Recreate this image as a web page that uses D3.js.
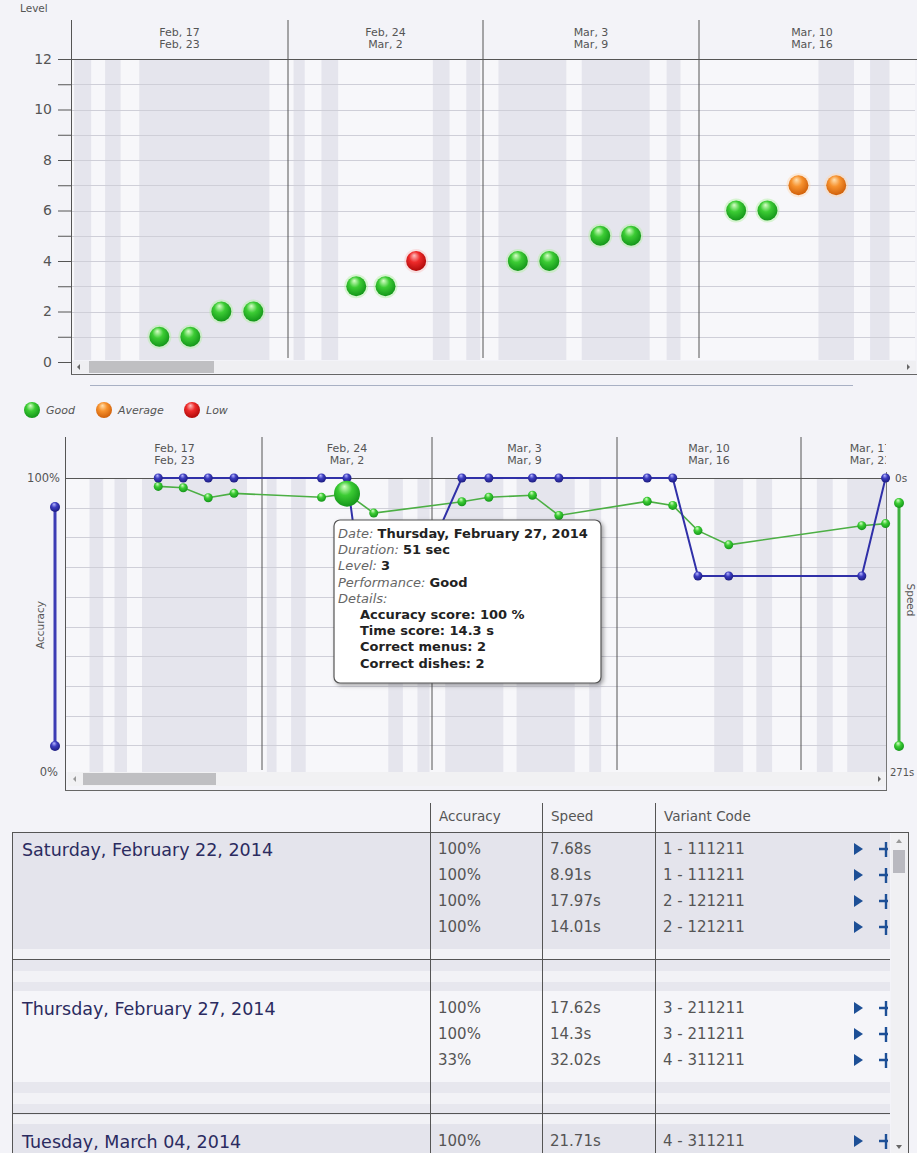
<!DOCTYPE html>
<html>
<head>
<meta charset="utf-8">
<script src="https://cdn.jsdelivr.net/npm/d3@7"></script>
<style>
  body { margin: 0; background: #f3f3f8; font-family: "DejaVu Sans", Verdana, sans-serif; }
  svg { display: block; }
</style>
</head>
<body>
<div id="chart"></div>
<script>
// ---- data ----
var weekStart = ["Feb, 17", "Feb, 24", "Mar, 3", "Mar, 10", "Mar, 17"];
var weekEnd   = ["Feb, 23", "Mar, 2", "Mar, 9", "Mar, 16", "Mar, 23"];
// session position, in days after Monday Feb 17 2014
var sessionDay = [2.85, 3.85, 4.85, 5.88, 9.45, 10.5, 11.6, 15.13, 16.15, 17.8, 18.8, 22.15, 23.12, 24.08, 25.25, 30.3, 31.2];
var level = [1, 1, 2, 2, 3, 3, 4, 4, 4, 5, 5, 6, 6, 7, 7];
var perf = ["Good", "Good", "Good", "Good", "Good", "Good", "Low", "Good", "Good", "Good", "Good", "Good", "Good", "Average", "Average"];
var accuracy = [100, 100, 100, 100, 100, 100, 33, 100, 100, 100, 100, 100, 100, 67, 67, 67, 100];
var speed = [7.68, 8.91, 17.97, 14.01, 17.62, 14.3, 32.02, 21.71, 17.6, 15.7, 34.2, 21.3, 25, 48, 61, 43.5, 41.6];
var shaded = [[0.1, 0.65], [1.1, 1.6], [2.2, 6.4], [7.2, 7.6], [8.2, 8.8], [12.2, 12.8], [13.4, 13.9],
              [14.5, 16.7], [17.2, 19.4], [19.95, 20.4], [24.7, 25.8], [26.3, 26.9], [28.6, 29.2], [29.75, 31.3]];
var legendNames = ["Good", "Average", "Low"];
var tableHeads = ["Accuracy", "Speed", "Variant Code"];
var tableDays = ["Saturday, February 22, 2014", "Thursday, February 27, 2014", "Tuesday, March 04, 2014"];
var tableAcc = [["100%", "100%", "100%", "100%"], ["100%", "100%", "33%"], ["100%"]];
var tableSpeed = [["7.68s", "8.91s", "17.97s", "14.01s"], ["17.62s", "14.3s", "32.02s"], ["21.71s"]];
var tableCode = [["1 - 111211", "1 - 111211", "2 - 121211", "2 - 121211"], ["3 - 211211", "3 - 211211", "4 - 311211"], ["4 - 311211"]];
var hover = 5;
var hoverDate = "Thursday, February 27, 2014", hoverDuration = "51 sec", hoverMenus = 2, hoverDishes = 2;

var perfColor = {Good: "green", Average: "orange", Low: "red"};

var svg = d3.select('#chart').append('svg')
  .attr('width', 917)
  .attr('height', 1153);

var defs = svg.append('defs');

function ball(id, light, mid, dark) {
  var g = defs.append('radialGradient').attr('id', id)
    .attr('cx', '45%').attr('cy', '40%').attr('r', '60%').attr('fx', '40%').attr('fy', '22%');
  g.append('stop').attr('offset', '0%').attr('stop-color', light);
  g.append('stop').attr('offset', '45%').attr('stop-color', mid);
  g.append('stop').attr('offset', '100%').attr('stop-color', dark);
}
ball('green', '#d8ffc8', '#3ccc34', '#14961a');
ball('orange', '#ffe0b0', '#f7922e', '#d0600a');
ball('red', '#ffc0c0', '#ee2a2a', '#b00a0a');
ball('blue', '#b8b8ff', '#3c3cc0', '#1c1c80');

var shadow = defs.append('filter').attr('id', 'shadow').attr('x', '-10%').attr('y', '-10%').attr('width', '130%').attr('height', '130%');
shadow.append('feDropShadow').attr('dx', 2).attr('dy', 2).attr('stdDeviation', 2).attr('flood-opacity', 0.35);

// =================== level chart ===================
var x1 = d3.scaleLinear().domain([0, 7, 14, 21, 28]).range([71, 288, 483, 699, 925]);
var y1 = d3.scaleLinear().domain([0, 12]).range([362, 59]);
var left1 = 71, right1 = 915;

defs.append('clipPath').attr('id', 'clip1').append('rect')
  .attr('x', left1).attr('y', 20).attr('width', right1 - left1).attr('height', 340);

var topG = svg.append('g');

topG.append('text').attr('x', 20).attr('y', 12).attr('font-size', 10.5).attr('fill', '#555').text('Level');

var plot1 = topG.append('g').attr('clip-path', 'url(#clip1)');
plot1.append('rect').attr('x', left1).attr('y', 59).attr('width', right1 - left1).attr('height', 301).attr('fill', '#f7f7fa');
plot1.selectAll('rect.band').data(shaded).enter().append('rect')
  .attr('class', 'band')
  .attr('x', function(d) { return x1(d[0]); })
  .attr('width', function(d) { return x1(d[1]) - x1(d[0]); })
  .attr('y', 59).attr('height', 301)
  .attr('fill', '#e5e5ed');

plot1.selectAll('line.grid').data(d3.range(0, 12)).enter().append('line')
  .attr('class', 'grid')
  .attr('x1', left1).attr('x2', right1)
  .attr('y1', function(d) { return Math.round(y1(d)) + 0.5; })
  .attr('y2', function(d) { return Math.round(y1(d)) + 0.5; })
  .attr('stroke', '#cfcfd8');

plot1.selectAll('line.week').data([7, 14, 21]).enter().append('line')
  .attr('class', 'week')
  .attr('x1', function(d) { return x1(d); }).attr('x2', function(d) { return x1(d); })
  .attr('y1', 20).attr('y2', 358)
  .attr('stroke', '#555');

// week labels centred on the visible part of each week
function weekLabels(g, x, nWeeks, lo, hi, y0) {
  var lab = g.selectAll('g.wl').data(d3.range(0, nWeeks)).enter().append('g').attr('class', 'wl')
    .attr('transform', function(i) {
      var a = Math.max(x(i * 7), lo), b = Math.min(x(i * 7 + 7), hi);
      return 'translate(' + ((a + b) / 2) + ',' + y0 + ')';
    });
  lab.append('text').attr('text-anchor', 'middle').attr('font-size', 11).attr('fill', '#555')
    .text(function(i) { return weekStart[i]; });
  lab.append('text').attr('text-anchor', 'middle').attr('y', 12).attr('font-size', 11).attr('fill', '#555')
    .text(function(i) { return weekEnd[i]; });
}
var head1 = topG.append('g');
weekLabels(head1, x1, 4, left1, 925, 36);

topG.append('line').attr('x1', left1).attr('x2', 917).attr('y1', 59.5).attr('y2', 59.5).attr('stroke', '#555');

// y axis
var ax1 = topG.append('g').attr('transform', 'translate(' + left1 + ',0)')
  .call(d3.axisLeft(y1).tickValues(d3.range(0, 13)).tickSize(13).tickPadding(6)
    .tickFormat(function(d) { return d % 2 ? '' : d; }));
ax1.select('.domain').remove();
ax1.selectAll('.tick line').attr('stroke', '#555');
ax1.selectAll('.tick text').attr('font-size', 14).attr('fill', '#555').attr('font-family', '"DejaVu Sans", Verdana, sans-serif');
topG.append('line').attr('x1', left1 + 0.5).attr('x2', left1 + 0.5).attr('y1', 20).attr('y2', 374).attr('stroke', '#555');

// level points
var pts1 = topG.append('g');
var lvIdx = d3.range(0, level.length);
pts1.selectAll('circle.halo').data(lvIdx).enter().append('circle')
  .attr('cx', function(i) { return x1(sessionDay[i]); })
  .attr('cy', function(i) { return y1(level[i]); })
  .attr('r', 12)
  .attr('fill', function(i) { return perf[i] == 'Good' ? '#b0f0a0' : perf[i] == 'Low' ? '#f8c0c0' : '#ffd8b0'; })
  .attr('opacity', 0.45);
pts1.selectAll('circle.pt').data(lvIdx).enter().append('circle')
  .attr('cx', function(i) { return x1(sessionDay[i]); })
  .attr('cy', function(i) { return y1(level[i]); })
  .attr('r', 10)
  .attr('fill', function(i) { return 'url(#' + perfColor[perf[i]] + ')'; });

// scrollbar
topG.append('rect').attr('x', 73).attr('y', 361).attr('width', 843).attr('height', 12).attr('fill', '#efeff2');
topG.append('rect').attr('x', 89).attr('y', 361).attr('width', 125).attr('height', 12).attr('fill', '#bfbfc2');
topG.append('path').attr('d', 'M80,364 L77,367 L80,370 Z').attr('fill', '#666');
topG.append('path').attr('d', 'M907,364 L910,367 L907,370 Z').attr('fill', '#666');
topG.append('line').attr('x1', left1).attr('x2', 917).attr('y1', 374.5).attr('y2', 374.5).attr('stroke', '#666');
topG.append('line').attr('x1', 90).attr('x2', 853).attr('y1', 385.5).attr('y2', 385.5).attr('stroke', '#a8b0c4');

// legend
var leg = svg.append('g').attr('transform', 'translate(0,410)');
var legX = [32, 104, 192];
var legG = leg.selectAll('g').data(legendNames).enter().append('g')
  .attr('transform', function(d, i) { return 'translate(' + legX[i] + ',0)'; });
legG.append('circle').attr('r', 8).attr('fill', function(d) { return 'url(#' + perfColor[d] + ')'; });
legG.append('text').attr('x', 14).attr('y', 4).attr('font-size', 11).attr('font-style', 'italic').attr('fill', '#555')
  .text(function(d) { return d; });

// =================== accuracy / speed chart ===================
var x2 = d3.scaleLinear().domain([0, 7, 14, 21, 28, 35]).range([87, 262, 432, 617, 801, 986]);
var yAcc = d3.scaleLinear().domain([0, 100]).range([775, 478]);
var ySpd = d3.scaleLinear().domain([0, 271]).range([478, 775]);
var left2 = 65, right2 = 886;

defs.append('clipPath').attr('id', 'clip2').append('rect')
  .attr('x', left2).attr('y', 437).attr('width', right2 - left2).attr('height', 335);

var bot = svg.append('g');
var plot2 = bot.append('g').attr('clip-path', 'url(#clip2)');
plot2.append('rect').attr('x', left2).attr('y', 478).attr('width', right2 - left2).attr('height', 294).attr('fill', '#f7f7fa');
plot2.selectAll('rect.band').data(shaded).enter().append('rect')
  .attr('x', function(d) { return x2(d[0]); })
  .attr('width', function(d) { return x2(d[1]) - x2(d[0]); })
  .attr('y', 478).attr('height', 294)
  .attr('fill', '#e5e5ed');
plot2.selectAll('line.grid').data(d3.range(10, 100, 10)).enter().append('line')
  .attr('x1', left2).attr('x2', right2)
  .attr('y1', function(d) { return Math.round(yAcc(d)) + 0.5; })
  .attr('y2', function(d) { return Math.round(yAcc(d)) + 0.5; })
  .attr('stroke', '#cfcfd8');
plot2.selectAll('line.week').data([7, 14, 21, 28]).enter().append('line')
  .attr('x1', function(d) { return x2(d); }).attr('x2', function(d) { return x2(d); })
  .attr('y1', 437).attr('y2', 770)
  .attr('stroke', '#555');
defs.append('clipPath').attr('id', 'clip2h').append('rect').attr('x', left2).attr('y', 430).attr('width', 821).attr('height', 45);
var head2 = bot.append('g').attr('clip-path', 'url(#clip2h)');
weekLabels(head2, x2, 5, left2, 940, 452);

bot.append('line').attr('x1', left2).attr('x2', right2).attr('y1', 478.5).attr('y2', 478.5).attr('stroke', '#555');
bot.append('line').attr('x1', left2 + 0.5).attr('x2', left2 + 0.5).attr('y1', 437).attr('y2', 790).attr('stroke', '#555');
bot.append('line').attr('x1', right2 + 0.5).attr('x2', right2 + 0.5).attr('y1', 472).attr('y2', 790).attr('stroke', '#777');
bot.append('line').attr('x1', left2).attr('x2', right2 + 1).attr('y1', 790.5).attr('y2', 790.5).attr('stroke', '#666');

// scrollbar
bot.append('rect').attr('x', 68).attr('y', 772).attr('width', 817).attr('height', 14).attr('fill', '#f1f1f3');
bot.append('rect').attr('x', 83).attr('y', 773).attr('width', 133).attr('height', 12).attr('fill', '#bfbfc2');
bot.append('path').attr('d', 'M76,776 L73,779 L76,782 Z').attr('fill', '#999');
bot.append('path').attr('d', 'M878,776 L881,779 L878,782 Z').attr('fill', '#666');

// axis labels
bot.append('text').attr('x', 60).attr('y', 482).attr('text-anchor', 'end').attr('font-size', 11.5).attr('fill', '#555').text('100%');
bot.append('text').attr('x', 58).attr('y', 776).attr('text-anchor', 'end').attr('font-size', 11.5).attr('fill', '#555').text('0%');
bot.append('text').attr('transform', 'translate(44,625) rotate(-90)').attr('text-anchor', 'middle')
  .attr('font-size', 10.5).attr('fill', '#555').text('Accuracy');
bot.append('text').attr('x', 895).attr('y', 482).attr('font-size', 10.5).attr('fill', '#555').text(ySpd.domain()[0] + 's');
bot.append('text').attr('x', 890).attr('y', 776).attr('font-size', 10).attr('fill', '#555').text(ySpd.domain()[1] + 's');
bot.append('text').attr('transform', 'translate(907,600) rotate(90)').attr('text-anchor', 'middle')
  .attr('font-size', 10.5).attr('fill', '#555').text('Speed');

// side range sliders
bot.append('line').attr('x1', 55).attr('x2', 55).attr('y1', 507).attr('y2', 746).attr('stroke', '#3c3cb4').attr('stroke-width', 3);
bot.selectAll('circle.sl').data([507, 746]).enter().append('circle')
  .attr('cx', 55).attr('cy', function(d) { return d; }).attr('r', 5).attr('fill', 'url(#blue)');
bot.append('line').attr('x1', 899).attr('x2', 899).attr('y1', 503).attr('y2', 746).attr('stroke', '#40b040').attr('stroke-width', 3);
bot.selectAll('circle.sr').data([503, 746]).enter().append('circle')
  .attr('cx', 899).attr('cy', function(d) { return d; }).attr('r', 5).attr('fill', 'url(#green)');

// series
var idx2 = d3.range(0, accuracy.length);
var lineAcc = d3.line().x(function(i) { return x2(sessionDay[i]); }).y(function(i) { return yAcc(accuracy[i]); });
var lineSpd = d3.line().x(function(i) { return x2(sessionDay[i]); }).y(function(i) { return ySpd(speed[i]); });

bot.append('path').attr('d', lineSpd(idx2)).attr('fill', 'none').attr('stroke', '#4caf44').attr('stroke-width', 1.6);
bot.append('path').attr('d', lineAcc(idx2)).attr('fill', 'none').attr('stroke', '#3030a8').attr('stroke-width', 2);

bot.selectAll('circle.spd').data(idx2).enter().append('circle')
  .attr('cx', function(i) { return x2(sessionDay[i]); })
  .attr('cy', function(i) { return ySpd(speed[i]); })
  .attr('r', 4.5).attr('fill', 'url(#green)');
bot.selectAll('circle.acc').data(idx2).enter().append('circle')
  .attr('cx', function(i) { return x2(sessionDay[i]); })
  .attr('cy', function(i) { return yAcc(accuracy[i]); })
  .attr('r', 4.5).attr('fill', 'url(#blue)');

// hovered point
bot.append('circle').attr('cx', x2(sessionDay[hover])).attr('cy', ySpd(speed[hover]))
  .attr('r', 13).attr('fill', 'url(#green)');

// tooltip
var tip = bot.append('g').attr('transform', 'translate(334,520)');
tip.append('rect').attr('width', 267).attr('height', 163).attr('rx', 6)
  .attr('fill', '#fff').attr('stroke', '#555').attr('stroke-width', 1.2).attr('filter', 'url(#shadow)');
var tipLines = [
  ['Date: ', hoverDate, 4],
  ['Duration: ', hoverDuration, 4],
  ['Level: ', String(level[hover]), 4],
  ['Performance: ', perf[hover], 4],
  ['Details:', '', 4],
  ['', 'Accuracy score: ' + accuracy[hover] + ' %', 26],
  ['', 'Time score: ' + speed[hover] + ' s', 26],
  ['', 'Correct menus: ' + hoverMenus, 26],
  ['', 'Correct dishes: ' + hoverDishes, 26]
];
var tl = tip.selectAll('text').data(tipLines).enter().append('text')
  .attr('x', function(d) { return d[2]; })
  .attr('y', function(d, i) { return 18 + i * 16.2; })
  .attr('font-size', 13);
tl.append('tspan').attr('font-style', 'italic').attr('fill', '#666').text(function(d) { return d[0]; });
tl.append('tspan').attr('font-weight', 'bold').attr('fill', '#222').text(function(d) { return d[1]; });

// =================== table ===================
var tbl = svg.append('g');
var colX = [430, 542, 655];
tbl.selectAll('text.head').data(tableHeads).enter().append('text')
  .attr('x', function(d, i) { return colX[i] + 9; }).attr('y', 821)
  .attr('font-size', 13.5).attr('fill', '#555').text(function(d) { return d; });

var rowH = 26;
var groupTop = [];
var yy = 832;
tableDays.forEach(function(d, g) { groupTop.push(yy); yy += tableAcc[g].length * rowH + 55; });

groupTop.forEach(function(t, g) {
  var n = tableAcc[g].length;
  var contentEnd = t + n * rowH + 13;
  var next = t + n * rowH + 55;
  tbl.append('rect').attr('x', 13).attr('y', t).attr('width', 877).attr('height', contentEnd - t)
    .attr('fill', g % 2 ? '#f5f5f9' : '#e4e4ec');
  // spacer stripes
  var stripe = d3.range(contentEnd, next, 11);
  tbl.selectAll(null).data(stripe).enter().append('rect')
    .attr('x', 13).attr('y', function(d) { return d; }).attr('width', 877).attr('height', 11)
    .attr('fill', function(d, i) { return (i + g) % 2 ? '#e7e7ee' : '#f2f2f6'; });
  if (g < groupTop.length - 1) {
    var lineY = g % 2 ? next - 10.5 : next - 31.5;
    tbl.append('line').attr('x1', 13).attr('x2', 890).attr('y1', lineY).attr('y2', lineY).attr('stroke', '#555');
  }
  tbl.append('text').attr('x', 22).attr('y', t + 24).attr('font-size', 17.5).attr('fill', '#2b2b60').text(tableDays[g]);
  var cols = [tableAcc[g], tableSpeed[g], tableCode[g]];
  cols.forEach(function(col, c) {
    tbl.selectAll(null).data(col).enter().append('text')
      .attr('x', colX[c] + 8).attr('y', function(d, r) { return t + 22 + r * rowH; })
      .attr('font-size', 15).attr('fill', '#555').text(function(d) { return d; });
  });
  // play / add icons
  d3.range(0, n).forEach(function(r) {
    var cy = t + 17 + r * rowH;
    tbl.append('path').attr('d', 'M854,' + (cy - 6) + ' L863,' + cy + ' L854,' + (cy + 6) + ' Z').attr('fill', '#1d4f96');
    tbl.append('path').attr('d', 'M886,' + (cy - 7) + ' V' + (cy + 8) + ' M879,' + cy + ' H888')
      .attr('stroke', '#1d4f96').attr('stroke-width', 2.4);
  });
});

tbl.selectAll('line.col').data(colX).enter().append('line')
  .attr('x1', function(d) { return d + 0.5; }).attr('x2', function(d) { return d + 0.5; })
  .attr('y1', 803).attr('y2', 1153).attr('stroke', '#555');
tbl.append('rect').attr('x', 12.5).attr('y', 832.5).attr('width', 896).attr('height', 400)
  .attr('fill', 'none').attr('stroke', '#555');
// table scrollbar
tbl.append('rect').attr('x', 891).attr('y', 833).attr('width', 17).attr('height', 330).attr('fill', '#f0f0f3');
tbl.append('rect').attr('x', 893).attr('y', 850).attr('width', 12).attr('height', 23).attr('fill', '#b9b9c0');
tbl.append('path').attr('d', 'M896,843 L899,839 L902,843 Z').attr('fill', '#999');
tbl.append('path').attr('d', 'M896,1145 L899,1149 L902,1145 Z').attr('fill', '#666');
</script>
</body>
</html>
